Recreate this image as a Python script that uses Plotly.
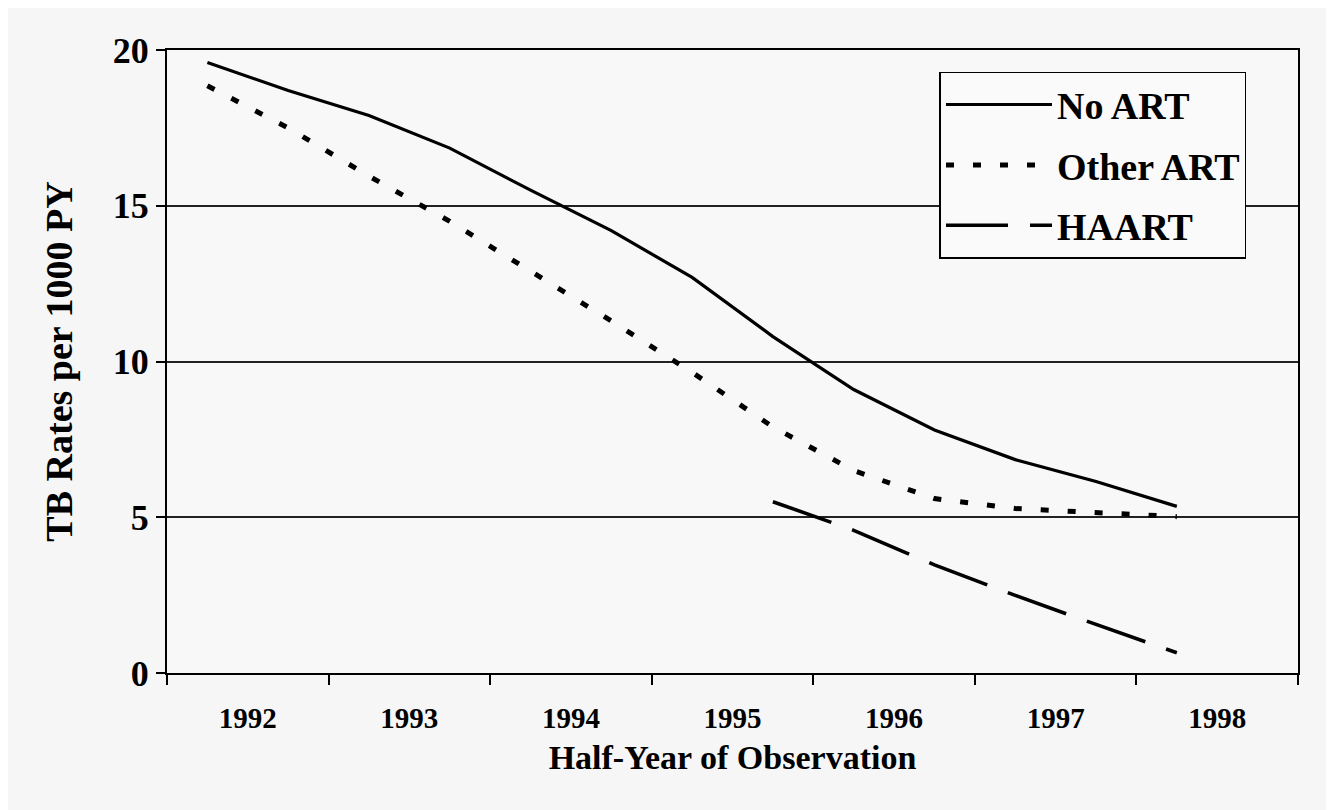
import plotly.graph_objects as go

# Half-year observation points (1992 H1 ... 1998 H1)
half_years = ["1992 H1", "1992 H2", "1993 H1", "1993 H2", "1994 H1", "1994 H2",
              "1995 H1", "1995 H2", "1996 H1", "1996 H2", "1997 H1", "1997 H2", "1998 H1"]
year_labels = ["1992", "1993", "1994", "1995", "1996", "1997", "1998"]

no_art = [19.6, 18.7, 17.9, 16.85, 15.5, 14.2, 12.7, 10.8, 9.1, 7.8, 6.85, 6.15, 5.35]
other_art = [18.85, 17.5, 15.95, 14.5, 12.9, 11.3, 9.65, 7.9, 6.5, 5.6, 5.28, 5.14, 5.02]
haart_periods = ["1995 H2", "1996 H1", "1996 H2", "1997 H1", "1997 H2", "1998 H1"]
haart = [5.5, 4.58, 3.47, 2.49, 1.56, 0.65]

idx = {h: i for i, h in enumerate(half_years)}
x_all = [idx[h] for h in half_years]
x_haart = [idx[h] for h in haart_periods]
year_pos = [2 * i + 0.5 for i in range(len(year_labels))]

serif = "Liberation Serif"

fig = go.Figure()
fig.add_trace(go.Scatter(x=x_all, y=no_art, mode="lines", name="No ART",
                         legendgroup="a",
                         line=dict(color="black", width=3.2)))
fig.add_trace(go.Scatter(x=x_all, y=other_art, mode="lines", name="Other ART",
                         legendgroup="b",
                         line=dict(color="black", width=5, dash="8px,19px")))
fig.add_trace(go.Scatter(x=x_haart, y=haart, mode="lines", name="HAART",
                         legendgroup="c",
                         line=dict(color="black", width=3.6, dash="62px,22px")))

# page body has an 8px margin, so the figure is 8px smaller each way
W, H = 1326, 802
fig.update_layout(
    width=W, height=H,
    paper_bgcolor="#f6f6f6",
    plot_bgcolor="#f8f8f8",
    margin=dict(l=159, r=36, t=42, b=137),
    showlegend=True,
    legend=dict(
        x=0.683, y=0.965, xanchor="left", yanchor="top",
        bgcolor="#fafafa", bordercolor="black", borderwidth=1.5,
        font=dict(family=serif, size=38, color="black", weight="bold"),
        itemwidth=106, tracegroupgap=8, traceorder="grouped",
    ),
    xaxis=dict(
        range=[-0.5, 13.5],
        tickvals=year_pos, ticktext=year_labels,
        ticks="", showgrid=False, zeroline=False,
        ticklabelstandoff=18,
        tickfont=dict(family=serif, size=29, color="black", weight="bold"),
        showline=True, linecolor="black", linewidth=2, mirror=True,
        minor=dict(tick0=-0.5, dtick=2, ticks="outside", ticklen=10,
                   tickwidth=2, tickcolor="black", showgrid=False),
        title=dict(text="Half-Year of Observation", standoff=12,
                   font=dict(family=serif, size=34, color="black", weight="bold")),
    ),
    yaxis=dict(
        range=[0, 20], tickvals=[0, 5, 10, 15, 20],
        ticks="outside", ticklen=9, tickwidth=2, tickcolor="black",
        showgrid=True, gridcolor="#222222", gridwidth=1.6, zeroline=False,
        tickfont=dict(family=serif, size=36, color="black", weight="bold"),
        showline=True, linecolor="black", linewidth=2, mirror=True,
        title=dict(text="TB Rates per 1000 PY", standoff=28,
                   font=dict(family=serif, size=38, color="black", weight="bold")),
    ),
)

fig.write_html("out.html")
